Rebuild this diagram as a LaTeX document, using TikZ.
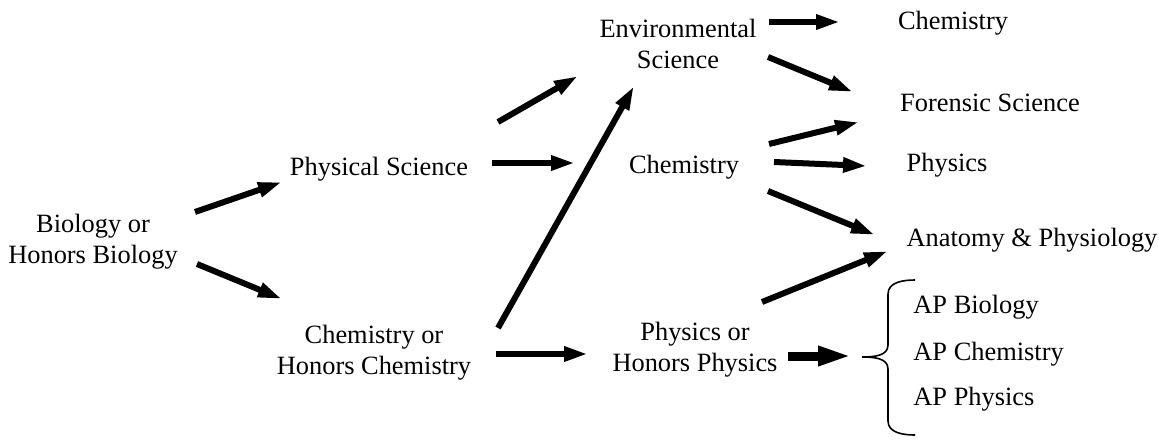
\documentclass[tikz,border=0pt]{standalone}
\usepackage{fontspec}
\setmainfont{Liberation Serif}
\usetikzlibrary{arrows.meta}

\begin{document}
\begin{tikzpicture}[
    x=0.5pt, y=-0.5pt,
    font=\fontsize{13.2}{15.5}\selectfont,
    course/.style={align=center, inner sep=0pt},
    apcourse/.style={anchor=west, inner sep=0pt},
    flow/.style={line width=3pt, -{Triangle[length=12pt, width=7pt]}},
    bigflow/.style={line width=4.5pt, -{Triangle[length=17pt, width=9pt]}},
    bracket/.style={line width=0.8pt}
]
\useasboundingbox (0,0) rectangle (1159,439);

% Courses
\node[course] (bio) at (93,242) {Biology or\\Honors Biology};
\node[course] (physci) at (379,169) {Physical Science};
\node[course] (chemor) at (374,353) {Chemistry or\\Honors Chemistry};
\node[course] (env) at (678,44) {Environmental\\Science};
\node[course] (chem) at (684,167) {Chemistry};
\node[course] (physor) at (695,350) {Physics or\\Honors Physics};

% Electives
\node[course] (chemR) at (953,23) {Chemistry};
\node[course] (foren) at (990,103) {Forensic Science};
\node[course] (physR) at (947,165) {Physics};
\node[course] (anat) at (1032,240) {Anatomy \& Physiology};

% AP courses
\node[apcourse] (apbio) at (913,307) {AP Biology};
\node[apcourse] (apchem) at (913,354) {AP Chemistry};
\node[apcourse] (apphys) at (913,399) {AP Physics};
\coordinate (brace) at (862,357);
\draw[bracket] (915,280) to[out=180, in=90] (888,294) -- (888,345)
    to[out=-90, in=0] (brace) to[out=0, in=90] (888,369) -- (888,421)
    to[out=-90, in=180] (915,435);

% First year
\draw[flow] ([shift={(102,-30)}]bio.center) -- ([shift={(-97,13)}]physci.center);
\draw[flow] ([shift={(104,22)}]bio.center) -- ([shift={(-92,-54)}]chemor.center);

% Second year
\draw[flow] ([shift={(119,-47)}]physci.center) -- ([shift={(-100,32)}]env.center);
\draw[flow] ([shift={(113,-6)}]physci.center) -- ([shift={(-109,-4)}]chem.center);
\draw[flow] ([shift={(124,-25)}]chemor.center) -- ([shift={(-44,42)}]env.center);
\draw[flow] ([shift={(122,1)}]chemor.center) -- ([shift={(-107,4)}]physor.center);

% Later years
\draw[flow] ([shift={(91,-22)}]env.center) -- ([shift={(-113,-1)}]chemR.center);
\draw[flow] ([shift={(90,13)}]env.center) -- ([shift={(-137,-11)}]foren.center);
\draw[flow] ([shift={(85,-23)}]chem.center) -- ([shift={(-131,19)}]foren.center);
\draw[flow] ([shift={(90,-5)}]chem.center) -- ([shift={(-80,1)}]physR.center);
\draw[flow] ([shift={(84,24)}]chem.center) -- ([shift={(-157,-5)}]anat.center);
\draw[flow] ([shift={(67,-48)}]physor.center) -- ([shift={(-144,11)}]anat.center);
\draw[bigflow] ([shift={(93,6)}]physor.center) -- ([shift={(-10,-1)}]brace);

\end{tikzpicture}
\end{document}
